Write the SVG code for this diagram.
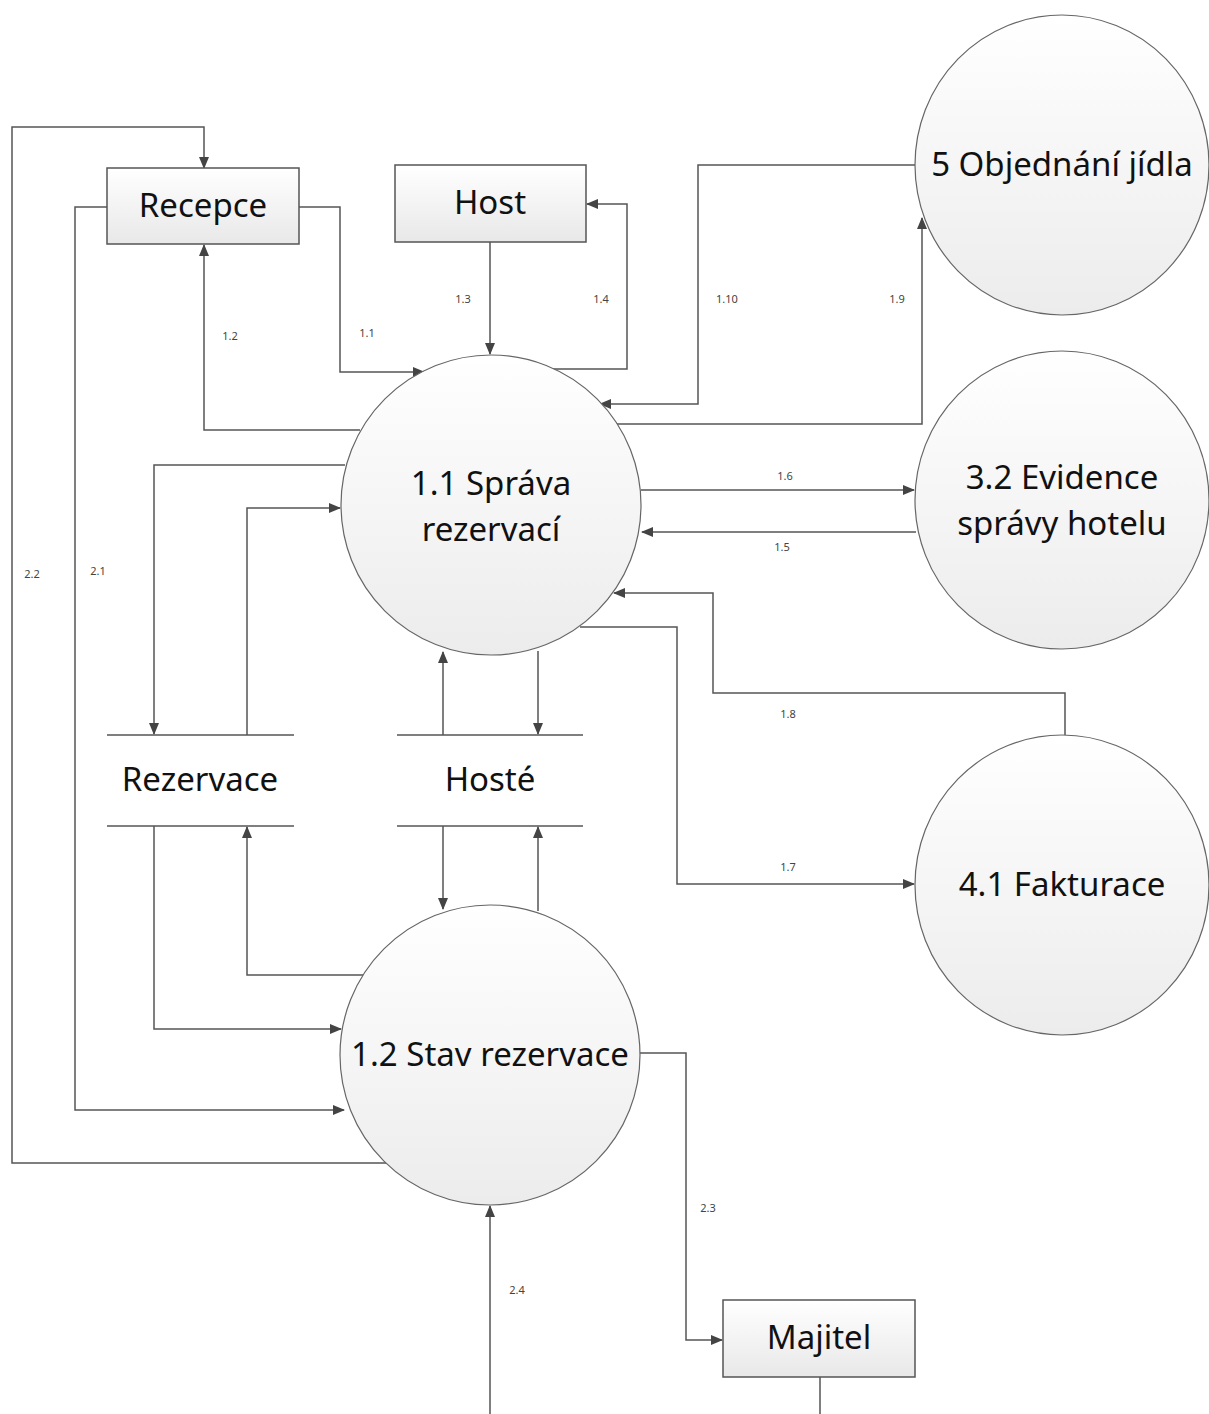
<svg xmlns="http://www.w3.org/2000/svg" width="1209" height="1414" viewBox="0 0 1209 1414">
<defs>
<linearGradient id="gc" x1="0" y1="0" x2="0" y2="1"><stop offset="0" stop-color="#ffffff"/><stop offset="1" stop-color="#ececec"/></linearGradient>
<linearGradient id="gb" x1="0" y1="0" x2="0" y2="1"><stop offset="0" stop-color="#ffffff"/><stop offset="1" stop-color="#e8e8e8"/></linearGradient>
<marker id="ah" markerWidth="12" markerHeight="10" refX="11" refY="5" orient="auto" markerUnits="userSpaceOnUse"><path d="M0,0 L12,5 L0,10 Z" fill="#444"/></marker>
</defs>
<style>
.box{fill:url(#gb);stroke:#555;stroke-width:1.5}
.circ{fill:url(#gc);stroke:#666;stroke-width:1.2}
.store{stroke:#555;stroke-width:1.5}
.t{font-family:"Noto Sans","Open Sans",sans-serif;font-size:33px;fill:#111;text-anchor:middle}
.lbl{font-family:"Noto Sans","Liberation Sans",sans-serif;font-size:11px;fill:#444;text-anchor:middle}
.c{fill:none;stroke:#555;stroke-width:1.5}
.ca{fill:none;stroke:#555;stroke-width:1.5;marker-end:url(#ah)}
</style>
<rect width="1209" height="1414" fill="#fff"/>
<g id="connectors">
<polyline class="ca" points="386,1163 12,1163 12,127 204,127 204,168"/>
<polyline class="ca" points="107,207 75,207 75,1110 344,1110"/>
<polyline class="ca" points="299,207 340,207 340,372 424,372"/>
<polyline class="ca" points="360,430 204,430 204,245"/>
<polyline class="ca" points="490,242 490,354"/>
<polyline class="ca" points="553,369 627,369 627,204 587,204"/>
<polyline class="ca" points="915,165 698,165 698,404 600,404"/>
<polyline class="ca" points="616,424 922,424 922,218"/>
<polyline class="ca" points="641,490 914,490"/>
<polyline class="ca" points="916,532 642,532"/>
<polyline class="ca" points="1065,735 1065,693 713,693 713,593 614,593"/>
<polyline class="ca" points="580,627 677,627 677,884 914,884"/>
<polyline class="ca" points="345,465 154,465 154,734"/>
<polyline class="ca" points="247,735 247,508 340,508"/>
<polyline class="ca" points="443,735 443,652"/>
<polyline class="ca" points="538,651 538,734"/>
<polyline class="ca" points="154,826 154,1029 341,1029"/>
<polyline class="ca" points="363,975 247,975 247,827"/>
<polyline class="ca" points="443,826 443,909"/>
<polyline class="ca" points="538,911 538,827"/>
<polyline class="ca" points="640,1053 686,1053 686,1340 722,1340"/>
<polyline class="ca" points="490,1414 490,1206"/>
<polyline class="c" points="820,1377 820,1414"/>
<text class="lbl" x="367" y="337">1.1</text>
<text class="lbl" x="230" y="340">1.2</text>
<text class="lbl" x="463" y="303">1.3</text>
<text class="lbl" x="601" y="303">1.4</text>
<text class="lbl" x="727" y="303">1.10</text>
<text class="lbl" x="897" y="303">1.9</text>
<text class="lbl" x="785" y="480">1.6</text>
<text class="lbl" x="782" y="551">1.5</text>
<text class="lbl" x="788" y="718">1.8</text>
<text class="lbl" x="788" y="871">1.7</text>
<text class="lbl" x="98" y="575">2.1</text>
<text class="lbl" x="32" y="578">2.2</text>
<text class="lbl" x="708" y="1212">2.3</text>
<text class="lbl" x="517" y="1294">2.4</text>
</g>
<g id="recepce"><rect class="box" x="107" y="168" width="192" height="76"/><text class="t" x="203" y="217">Recepce</text></g>
<g id="host"><rect class="box" x="395" y="165" width="191" height="77"/><text class="t" x="490" y="214">Host</text></g>
<g id="majitel"><rect class="box" x="723" y="1300" width="192" height="77"/><text class="t" x="819" y="1349">Majitel</text></g>
<g id="sprava"><circle class="circ" cx="491" cy="505" r="150"/><text class="t" x="491" y="495">1.1 Správa</text><text class="t" x="491" y="541">rezervací</text></g>
<g id="stav"><circle class="circ" cx="490" cy="1055" r="150"/><text class="t" x="490" y="1066">1.2 Stav rezervace</text></g>
<g id="objednani"><ellipse class="circ" cx="1062" cy="165" rx="147" ry="150"/><text class="t" x="1062" y="176">5 Objednání jídla</text></g>
<g id="evidence"><ellipse class="circ" cx="1062" cy="500" rx="147" ry="149"/><text class="t" x="1062" y="489">3.2 Evidence</text><text class="t" x="1062" y="535">správy hotelu</text></g>
<g id="fakturace"><ellipse class="circ" cx="1062" cy="885" rx="147" ry="150"/><text class="t" x="1062" y="896">4.1 Fakturace</text></g>
<g id="rezervace"><line class="store" x1="107" y1="735" x2="294" y2="735"/><line class="store" x1="107" y1="826" x2="294" y2="826"/><text class="t" x="200" y="791">Rezervace</text></g>
<g id="hoste"><line class="store" x1="397" y1="735" x2="583" y2="735"/><line class="store" x1="397" y1="826" x2="583" y2="826"/><text class="t" x="490" y="791">Hosté</text></g>
</svg>
